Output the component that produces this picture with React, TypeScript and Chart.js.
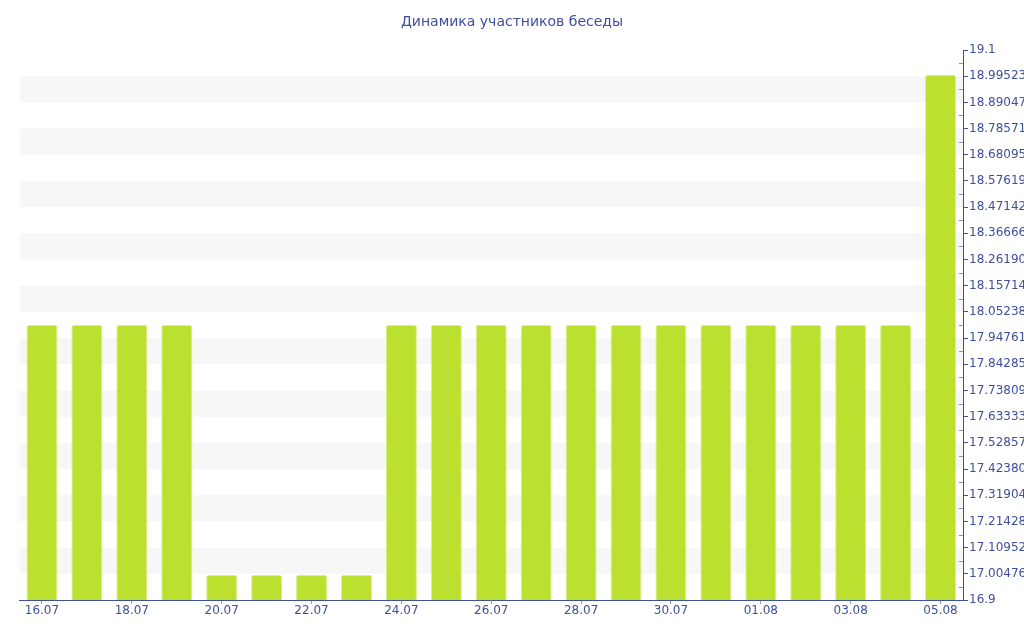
import React, { useEffect, useRef } from "react";
import { Chart, registerables } from "chart.js";

Chart.register(...registerables);

const categories = [
  "16.07", "17.07", "18.07", "19.07", "20.07", "21.07", "22.07", "23.07",
  "24.07", "25.07", "26.07", "27.07", "28.07", "29.07", "30.07", "31.07",
  "01.08", "02.08", "03.08", "04.08", "05.08",
];

const participants = [18, 18, 18, 18, 17, 17, 17, 17, 18, 18, 18, 18, 18, 18, 18, 18, 18, 18, 18, 18, 19];

const yTickLabels = [
  "16.9", "17.0047619048", "17.1095238095", "17.2142857143", "17.3190476190",
  "17.4238095238", "17.5285714286", "17.6333333333", "17.7380952381", "17.8428571429",
  "17.9476190476", "18.0523809524", "18.1571428571", "18.2619047619", "18.3666666667",
  "18.4714285714", "18.5761904762", "18.6809523810", "18.7857142857", "18.8904761905",
  "18.9952380952", "19.1",
];

const TITLE = "Динамика участников беседы";
const AXIS_BLUE = "#3e4f9c";

const stripesPlugin = {
  id: "stripes",
  beforeDatasetsDraw(chart: any) {
    const { ctx, chartArea } = chart;
    const y = chart.scales.y;
    const ticks = y.ticks;
    ctx.save();
    ctx.fillStyle = "#f7f7f7";
    for (let i = 1; i < ticks.length - 1; i += 2) {
      const y0 = y.getPixelForValue(ticks[i].value);
      const y1 = y.getPixelForValue(ticks[i + 1].value);
      ctx.fillRect(chartArea.left, y1, chartArea.right - chartArea.left, y0 - y1);
    }
    ctx.restore();
  },
  afterDraw(chart: any) {
    const { ctx, chartArea } = chart;
    const y = chart.scales.y;
    const ticks = y.ticks;
    ctx.save();
    ctx.strokeStyle = "#8a93b8";
    ctx.lineWidth = 1;
    for (let i = 0; i < ticks.length - 1; i++) {
      const ym = Math.round((y.getPixelForValue(ticks[i].value) + y.getPixelForValue(ticks[i + 1].value)) / 2) + 0.5;
      ctx.beginPath();
      ctx.moveTo(chartArea.right - 4, ym);
      ctx.lineTo(chartArea.right, ym);
      ctx.stroke();
    }
    // title, centred on the visible page width
    ctx.fillStyle = AXIS_BLUE;
    ctx.font = "14px 'DejaVu Sans'";
    ctx.textAlign = "center";
    ctx.textBaseline = "middle";
    ctx.fillText(TITLE, 512, 22);
    ctx.restore();
  },
};

export default function App() {
  const ref = useRef<HTMLCanvasElement | null>(null);

  useEffect(() => {
    if (!ref.current) return;
    const chart = new Chart(ref.current, {
      type: "bar",
      data: {
        labels: categories,
        datasets: [
          {
            label: "Участники",
            data: participants,
            backgroundColor: "#bce02f",
            borderColor: "rgba(214,238,120,0.9)",
            borderWidth: 1,
            borderRadius: 2,
            borderSkipped: "bottom",
            barPercentage: 0.69,
            categoryPercentage: 1,
          },
        ],
      },
      options: {
        animation: false,
        responsive: false,
        maintainAspectRatio: false,
        layout: { padding: { left: 19.5, right: 0, top: 50, bottom: 0 } },
        plugins: {
          legend: { display: false },
          tooltip: { enabled: false },
          title: { display: false },
        },
        scales: {
          x: {
            offset: true,
            afterFit: (scale: any) => {
              scale.height = 40;
            },
            grid: {
              offset: false,
              drawOnChartArea: false,
              drawTicks: true,
              tickLength: 4,
              color: (c: any) => (c.index % 2 === 0 ? "#9aa0b8" : "rgba(0,0,0,0)"),
            },
            border: { display: true, color: AXIS_BLUE, width: 1 },
            ticks: {
              autoSkip: false,
              maxRotation: 0,
              padding: 0,
              color: AXIS_BLUE,
              font: { family: "DejaVu Sans", size: 12 },
              callback: (_v: any, i: number) => (i % 2 === 0 ? categories[i] : ""),
            },
          },
          y: {
            position: "right",
            min: 16.9,
            max: 19.1,
            afterBuildTicks: (scale: any) => {
              scale.ticks = yTickLabels.map((s) => ({ value: parseFloat(s) }));
            },
            afterFit: (scale: any) => {
              scale.width = 1100 - 963;
            },
            grid: {
              drawOnChartArea: false,
              drawTicks: true,
              tickLength: 5,
              color: AXIS_BLUE,
            },
            border: { display: true, color: AXIS_BLUE, width: 1 },
            ticks: {
              padding: 1,
              color: AXIS_BLUE,
              font: { family: "DejaVu Sans", size: 12 },
              callback: (_v: any, i: number) => yTickLabels[i],
            },
          },
        },
      },
      plugins: [stripesPlugin],
    });
    return () => chart.destroy();
  }, []);

  return (
    <div
      style={{
        position: "fixed",
        left: 0,
        top: 0,
        width: 1024,
        height: 640,
        overflow: "hidden",
        background: "#fff",
      }}
    >
      <canvas ref={ref} width={1100} height={640} style={{ display: "block", width: 1100, height: 640 }} />
    </div>
  );
}
